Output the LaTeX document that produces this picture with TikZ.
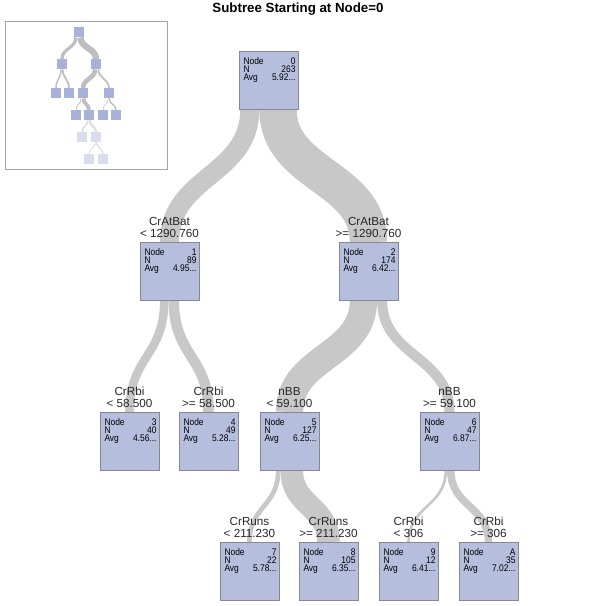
\documentclass[tikz,border=0pt]{standalone}
\usepackage{fontspec}
\setmainfont{Liberation Sans}
\newfontfamily\boxfont[FakeStretch=0.88]{Liberation Sans}
\usetikzlibrary{backgrounds}

\definecolor{boxfill}{RGB}{182,190,222}
\definecolor{boxline}{RGB}{135,135,145}
\definecolor{bandgray}{RGB}{200,200,200}
\definecolor{labelgray}{RGB}{40,40,40}
\definecolor{framegray}{RGB}{165,165,170}
\definecolor{miniblue}{RGB}{168,178,216}
\definecolor{minifade}{RGB}{216,221,238}
\definecolor{minigray}{RGB}{190,190,190}
\definecolor{minifadegray}{RGB}{222,222,222}

% the three lines inside a node box
\newcommand{\stats}[3]{\parbox[c][58pt][t]{59pt}{\boxfont\fontsize{9.6}{8.4}\selectfont
  \leftskip=4.5pt \rightskip=2.5pt
  \rule{0pt}{12.8pt}Node\hfill #1\\N\hfill #2\\Avg\hfill #3}}

\begin{document}
\begin{tikzpicture}[x=1pt,y=-1pt,
  nodebox/.style={draw=boxline,fill=boxfill,line width=0.6pt,inner sep=0pt,anchor=north},
  split/.style={anchor=south,align=center,inner sep=0pt,text depth=0pt,text=labelgray,font=\fontsize{11.7}{12.7}\selectfont},
  band/.style={draw=bandgray},
  mini/.style={fill=miniblue,minimum size=10pt,inner sep=0pt,anchor=north},
  faded/.style={fill=minifade},
  miniband/.style={draw=minigray},
  fadeband/.style={draw=minifadegray}]
\useasboundingbox (0,0) rectangle (598,606);

\node[font=\bfseries\fontsize{13.3}{15}\selectfont] (title) at (298,9.5) {Subtree Starting at Node=0};

% overview of the whole tree
\draw[framegray,line width=0.8pt] (5,21) rectangle (167,169);
\node[mini] (m0) at (79,27) {};
\node[mini] (m1) at (62,59) {};
\node[mini] (m2) at (96,59) {};
\node[mini] (m3) at (56,88) {};
\node[mini] (m4) at (69,88) {};
\node[mini] (m5) at (83,88) {};
\node[mini] (m6) at (109,88) {};
\node[mini] (m7) at (76,110) {};
\node[mini] (m8) at (89,110) {};
\node[mini] (m9) at (103,110) {};
\node[mini] (mA) at (116,110) {};
\node[mini,faded] (mB) at (82,132) {};
\node[mini,faded] (mC) at (96,132) {};
\node[mini,faded] (mD) at (89,154) {};
\node[mini,faded] (mE) at (103,154) {};

% nodes of the subtree
\node[nodebox] (n0) at (268.5,51) {\stats{0}{263}{5.92...}};
\node[nodebox] (n1) at (169.5,242) {\stats{1}{89}{4.95...}};
\node[nodebox] (n2) at (368.5,242) {\stats{2}{174}{6.42...}};
\node[nodebox] (n3) at (129.5,412) {\stats{3}{40}{4.56...}};
\node[nodebox] (n4) at (208.5,412) {\stats{4}{49}{5.28...}};
\node[nodebox] (n5) at (289.5,412) {\stats{5}{127}{6.25...}};
\node[nodebox] (n6) at (449.5,412) {\stats{6}{47}{6.87...}};
\node[nodebox] (n7) at (249.5,542) {\stats{7}{22}{5.78...}};
\node[nodebox] (n8) at (328.5,542) {\stats{8}{105}{6.35...}};
\node[nodebox] (n9) at (408.5,542) {\stats{9}{12}{6.41...}};
\node[nodebox] (nA) at (488.5,542) {\stats{A}{35}{7.02...}};

% split rules
\node[split] (l1) at ([yshift=4pt]n1.north) {CrAtBat\\< 1290.760};
\node[split] (l2) at ([yshift=4pt]n2.north) {CrAtBat\\>= 1290.760};
\node[split] (l3) at ([yshift=4pt]n3.north) {CrRbi\\< 58.500};
\node[split] (l4) at ([yshift=4pt]n4.north) {CrRbi\\>= 58.500};
\node[split] (l5) at ([yshift=4pt]n5.north) {nBB\\< 59.100};
\node[split] (l6) at ([yshift=4pt]n6.north) {nBB\\>= 59.100};
\node[split] (l7) at ([yshift=4pt]n7.north) {CrRuns\\< 211.230};
\node[split] (l8) at ([yshift=4pt]n8.north) {CrRuns\\>= 211.230};
\node[split] (l9) at ([yshift=4pt]n9.north) {CrRbi\\< 306};
\node[split] (lA) at ([yshift=4pt]nA.north) {CrRbi\\>= 306};

\begin{scope}[on background layer]
  % bands, width by N
  \draw[band,line width=19.1pt] ([xshift=-18.7pt]n0.south) .. controls +(0,66) and +(0,-66) .. (n1.north);
  \draw[band,line width=37.4pt] ([xshift=9.55pt]n0.south) .. controls +(0,66) and +(0,-66) .. (n2.north);
  \draw[band,line width=8.6pt] ([xshift=-5.25pt]n1.south) .. controls +(0,56) and +(0,-56) .. (n3.north);
  \draw[band,line width=10.5pt] ([xshift=4.3pt]n1.south) .. controls +(0,56) and +(0,-56) .. (n4.north);
  \draw[band,line width=27.3pt] ([xshift=-5.05pt]n2.south) .. controls +(0,56) and +(0,-56) .. (n5.north);
  \draw[band,line width=10.1pt] ([xshift=13.65pt]n2.south) .. controls +(0,56) and +(0,-56) .. (n6.north);
  \draw[band,line width=4.7pt] ([xshift=-11.3pt]n5.south) .. controls +(0,36) and +(0,-36) .. (n7.north);
  \draw[band,line width=22.6pt] ([xshift=2.35pt]n5.south) .. controls +(0,36) and +(0,-36) .. (n8.north);
  \draw[band,line width=2.6pt] ([xshift=-3.75pt]n6.south) .. controls +(0,36) and +(0,-36) .. (n9.north);
  \draw[band,line width=7.5pt] ([xshift=1.3pt]n6.south) .. controls +(0,36) and +(0,-36) .. (nA.north);
  % bands of the overview
  \draw[miniband,line width=3.2pt] ([xshift=-3.15pt]m0.south) .. controls +(0,11) and +(0,-11) .. (m1.north);
  \draw[miniband,line width=6.3pt] ([xshift=1.6pt]m0.south) .. controls +(0,11) and +(0,-11) .. (m2.north);
  \draw[miniband,line width=1.4pt] ([xshift=-0.9pt]m1.south) .. controls +(0,9) and +(0,-9) .. (m3.north);
  \draw[miniband,line width=1.8pt] ([xshift=0.7pt]m1.south) .. controls +(0,9) and +(0,-9) .. (m4.north);
  \draw[miniband,line width=4.6pt] ([xshift=-0.85pt]m2.south) .. controls +(0,9) and +(0,-9) .. (m5.north);
  \draw[miniband,line width=1.7pt] ([xshift=2.3pt]m2.south) .. controls +(0,9) and +(0,-9) .. (m6.north);
  \draw[miniband,line width=0.8pt] ([xshift=-1.9pt]m5.south) .. controls +(0,6) and +(0,-6) .. (m7.north);
  \draw[miniband,line width=3.8pt] ([xshift=0.4pt]m5.south) .. controls +(0,6) and +(0,-6) .. (m8.north);
  \draw[miniband,line width=0.5pt] ([xshift=-0.6pt]m6.south) .. controls +(0,6) and +(0,-6) .. (m9.north);
  \draw[miniband,line width=1.3pt] ([xshift=0.2pt]m6.south) .. controls +(0,6) and +(0,-6) .. (mA.north);
  \draw[fadeband,line width=1.6pt] ([xshift=-1.1pt]m8.south) .. controls +(0,6) and +(0,-6) .. (mB.north);
  \draw[fadeband,line width=2.2pt] ([xshift=0.8pt]m8.south) .. controls +(0,6) and +(0,-6) .. (mC.north);
  \draw[fadeband,line width=0.9pt] ([xshift=-0.6pt]mC.south) .. controls +(0,6) and +(0,-6) .. (mD.north);
  \draw[fadeband,line width=1.3pt] ([xshift=0.45pt]mC.south) .. controls +(0,6) and +(0,-6) .. (mE.north);
\end{scope}
\end{tikzpicture}
\end{document}
